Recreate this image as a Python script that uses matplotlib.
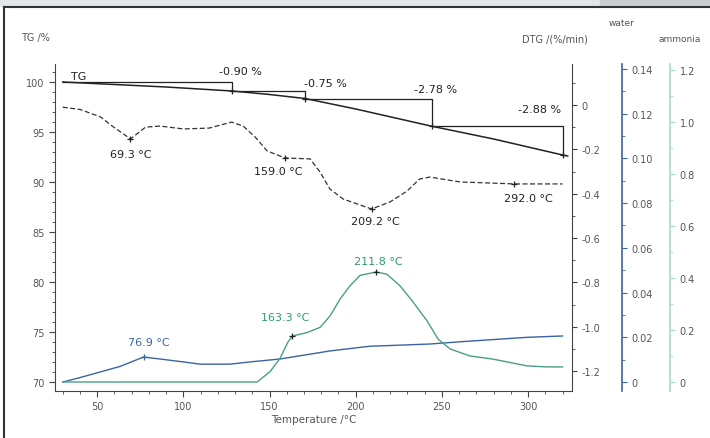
import matplotlib
matplotlib.use("Agg")
import matplotlib.pyplot as plt
from matplotlib.patches import Rectangle
from matplotlib.lines import Line2D
from matplotlib.ticker import MultipleLocator, FixedLocator

# TG curve (mass %)
tg_t = [30, 60, 90, 128.3, 150, 170.6, 200, 244.3, 280, 320.3, 323]
tg_v = [100.0, 99.75, 99.5, 99.1, 98.75, 98.35, 97.3, 95.57, 94.3, 92.69, 92.6]

# mass-loss steps: start temp, end temp, label
step_t0 = [30, 128.3, 170.6, 244.3]
step_t1 = [128.3, 170.6, 244.3, 320.3]
step_m0 = [100.0, 99.10, 98.35, 95.57]
step_m1 = [99.10, 98.35, 95.57, 92.69]
step_lab = ["-0.90 %", "-0.75 %", "-2.78 %", "-2.88 %"]

# DTG curve (%/min)
dtg_t = [30, 40, 52, 58.7, 69.3, 78, 86.5, 100, 115, 128, 134.7, 141.6, 148.6, 159.0,
         173.5, 179.3, 185, 192.7, 209.2, 220, 229.8, 237, 243, 260.5, 292.0, 320]
dtg_v = [-0.01, -0.02, -0.054, -0.095, -0.153, -0.10, -0.095, -0.108, -0.104, -0.077,
         -0.095, -0.144, -0.207, -0.239, -0.243, -0.302, -0.379, -0.424, -0.469, -0.437,
         -0.388, -0.334, -0.325, -0.347, -0.356, -0.356]
dtg_peaks = [69.3, 159.0, 209.2, 292.0]

# MS water signal
w_t = [30, 40, 51.7, 63.3, 76.9, 86.5, 100, 109.7, 127, 138.7, 156, 185, 208, 243, 260.5, 299.4, 320]
w_v = [0.0, 0.002, 0.0045, 0.007, 0.0112, 0.0103, 0.009, 0.008, 0.008, 0.009, 0.0103,
       0.0139, 0.016, 0.017, 0.018, 0.020, 0.0206]
w_peaks = [76.9]

# MS ammonia signal
a_t = [30, 100, 142.8, 150.3, 156, 160.8, 163.3, 171.7, 179.3, 185.1, 191, 196.7, 202.5,
       211.8, 218, 225.7, 233, 241.4, 247.8, 254.8, 266.4, 279.7, 299.4, 311, 320]
a_v = [0.0, 0.0, 0.0, 0.04, 0.09, 0.155, 0.177, 0.19, 0.21, 0.254, 0.32, 0.37, 0.41,
       0.423, 0.415, 0.37, 0.31, 0.235, 0.165, 0.127, 0.1, 0.088, 0.062, 0.058, 0.058]
a_peaks = [163.3, 211.8]

tg_ticks = [70, 75, 80, 85, 90, 95, 100]
dtg_ticks = [0, -0.2, -0.4, -0.6, -0.8, -1.0, -1.2]
w_ticks = [0, 0.02, 0.04, 0.06, 0.08, 0.10, 0.12, 0.14]
w_labels = ["0", "0.02", "0.04", "0.06", "0.08", "0.10", "0.12", "0.14"]
a_ticks = [0, 0.2, 0.4, 0.6, 0.8, 1.0, 1.2]
a_labels = ["0", "0.2", "0.4", "0.6", "0.8", "1.0", "1.2"]

GREY = "#555555"
AX = "#444444"
BLUE = "#3a64a0"
GREEN = "#2f9a6a"
TEAL = "#4a9e86"

W, H = 710, 439
fig = plt.figure(figsize=(7.1, 4.39), dpi=100)
fig.patch.set_facecolor("white")

# window-like frame
fig.patches.append(Rectangle((0, 1 - 7 / H), 1, 7 / H, transform=fig.transFigure,
                             color="#e2e6ea", zorder=0))
fig.patches.append(Rectangle((600 / W, 1 - 7 / H), 110 / W, 7 / H, transform=fig.transFigure,
                             color="#c9ced3", zorder=0))
fig.lines.append(Line2D([4 / W, 1], [1 - 8 / H, 1 - 8 / H], transform=fig.transFigure,
                        color="#333333", lw=1.5))
fig.lines.append(Line2D([4 / W, 4 / W], [0, 1 - 8 / H], transform=fig.transFigure,
                        color="#333333", lw=1.5))

ax = fig.add_axes([55 / W, 1 - 392 / H, 517 / W, 327 / H])
ax.set_facecolor("none")
ax.set_xlim(25.5, 325.5)
ax.set_ylim(69.1, 101.8)
for s in ["top", "right"]:
    ax.spines[s].set_visible(False)
for s in ["left", "bottom"]:
    ax.spines[s].set_color(AX)
ax.xaxis.set_major_locator(MultipleLocator(50))
ax.xaxis.set_minor_locator(MultipleLocator(10))
ax.yaxis.set_major_locator(FixedLocator(tg_ticks))
ax.yaxis.set_minor_locator(MultipleLocator(1))
ax.tick_params(which="both", direction="out", colors=AX, labelcolor=GREY, labelsize=7)
ax.tick_params(which="minor", length=2)
ax.tick_params(which="major", length=4)
ax.set_xlabel("Temperature /°C", fontsize=7.5, color=GREY, labelpad=2)

# TG curve and step brackets
ax.plot(tg_t, tg_v, color="#222222", lw=1.1)
ax.text(35, 100.15, "TG", fontsize=8, color="#222222", va="bottom")
offs = [(8, 11), (20, 8), (3, 10), (-23, 17)]
for t0, t1, m0, m1, lab, o in zip(step_t0, step_t1, step_m0, step_m1, step_lab, offs):
    ax.plot([t0, t1, t1], [m0, m0, m1], color="#222222", lw=0.9)
    ax.plot([t1], [m1], marker="+", color="#222222", ms=5, mew=0.9)
    ax.annotate(lab, xy=(t1, m0), xytext=o, textcoords="offset pixels",
                ha="center", va="center", fontsize=8, color="#222222")

# DTG
ax2 = ax.twinx()
ax2.set_ylim(-1.29, 0.185)
for s in ["top", "left", "bottom"]:
    ax2.spines[s].set_visible(False)
ax2.spines["right"].set_color(AX)
ax2.yaxis.set_major_locator(FixedLocator(dtg_ticks))
ax2.yaxis.set_minor_locator(MultipleLocator(0.1))
ax2.yaxis.set_major_formatter(plt.FuncFormatter(lambda v, p: "0" if abs(v) < 1e-9 else "%.1f" % v))
ax2.tick_params(which="both", direction="out", colors=AX, labelcolor=GREY, labelsize=7)
ax2.tick_params(which="minor", length=2)
ax2.plot(dtg_t, dtg_v, color="#333333", lw=0.9, ls=(0, (4, 2)))
offs = [(0, -15), (-7, -13), (4, -12), (14, -14)]
for pk, o in zip(dtg_peaks, offs):
    y = dtg_v[dtg_t.index(pk)]
    ax2.plot([pk], [y], marker="+", color="#222222", ms=5, mew=0.9)
    ax2.annotate("%.1f °C" % pk, xy=(pk, y), xytext=o, textcoords="offset pixels",
                 ha="center", va="center", fontsize=8, color="#222222")

# water
ax3 = ax.twinx()
ax3.set_ylim(-0.004, 0.1422)
ax3.spines["right"].set_position(("axes", 567 / 517))
for s in ["top", "left", "bottom"]:
    ax3.spines[s].set_visible(False)
ax3.spines["right"].set_color(BLUE)
ax3.spines["right"].set_linewidth(1.2)
ax3.yaxis.set_major_locator(FixedLocator(w_ticks))
ax3.set_yticklabels(w_labels)
ax3.yaxis.set_minor_locator(MultipleLocator(0.01))
ax3.tick_params(which="both", direction="out", colors=BLUE, labelcolor=GREY, labelsize=7)
ax3.tick_params(which="minor", length=2)
ax3.plot(w_t, w_v, color=BLUE, lw=1.0)
for pk in w_peaks:
    y = w_v[w_t.index(pk)]
    ax3.plot([pk], [y], marker="+", color=BLUE, ms=5, mew=0.9)
    ax3.annotate("%.1f °C" % pk, xy=(pk, y), xytext=(5, 15), textcoords="offset pixels",
                 ha="center", va="center", fontsize=8, color=BLUE)

# ammonia
ax4 = ax.twinx()
ax4.set_ylim(-0.0346, 1.223)
ax4.spines["right"].set_position(("axes", 615 / 517))
for s in ["top", "left", "bottom"]:
    ax4.spines[s].set_visible(False)
ax4.spines["right"].set_color("#a9d9c8")
ax4.spines["right"].set_linewidth(1.2)
ax4.yaxis.set_major_locator(FixedLocator(a_ticks))
ax4.set_yticklabels(a_labels)
ax4.yaxis.set_minor_locator(MultipleLocator(0.1))
ax4.tick_params(which="both", direction="out", colors="#a9d9c8", labelcolor=GREY, labelsize=7)
ax4.tick_params(which="minor", length=2)
ax4.plot(a_t, a_v, color=TEAL, lw=1.0)
offs = [(-7, 19), (2, 11)]
for pk, o in zip(a_peaks, offs):
    y = a_v[a_t.index(pk)]
    ax4.plot([pk], [y], marker="+", color="#222222", ms=5, mew=0.9)
    ax4.annotate("%.1f °C" % pk, xy=(pk, y), xytext=o, textcoords="offset pixels",
                 ha="center", va="center", fontsize=8, color=GREEN)

# axis titles
fig.text(35 / W, 1 - 38 / H, "TG /%", fontsize=7, color=GREY, ha="center", va="center")
fig.text(555 / W, 1 - 40 / H, "DTG /(%/min)", fontsize=7, color=GREY, ha="center", va="center")
fig.text(622 / W, 1 - 23 / H, "water", fontsize=6.5, color=GREY, ha="center", va="center")
fig.text(680 / W, 1 - 40 / H, "ammonia", fontsize=6.5, color=GREY, ha="center", va="center")

fig.savefig("out.png", dpi=100)
